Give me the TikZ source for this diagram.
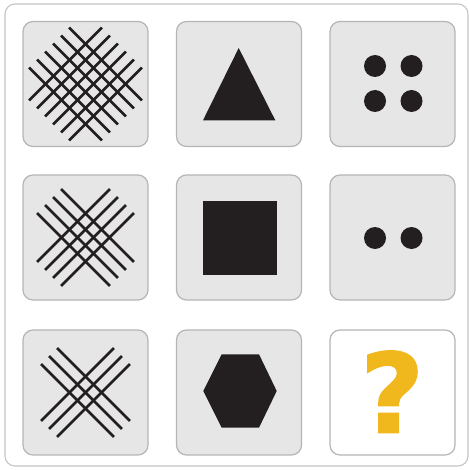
\documentclass[tikz,border=0pt]{standalone}
\usepackage{fontspec}
\newfontface\quizfont{DejaVu Sans Bold}[FakeBold=1.5]
\definecolor{tilegray}{HTML}{E6E6E6}
\definecolor{edgegray}{HTML}{B5B5B5}
\definecolor{framegray}{HTML}{C4C4C4}
\definecolor{inkblack}{HTML}{231F20}
\definecolor{quizyellow}{HTML}{F1B81E}
\tikzset{
  tile/.style={draw=edgegray, line width=1.2pt, fill=tilegray, rounded corners=10pt,
    minimum width=125pt, minimum height=125pt, inner sep=0pt},
  hatch/.style={draw=inkblack, line width=2.7pt},
  dot/.style={fill=inkblack}
}
\begin{document}
\begin{tikzpicture}[x=1pt,y=-1pt]
\useasboundingbox (0,0) rectangle (469,470);
\draw[framegray, line width=1.1pt, rounded corners=10pt] (5,4) rectangle (468,466);
% tiles, row by row
\node[tile] (t11) at (85.5,84) {};
\node[tile] (t12) at (239,84) {};
\node[tile] (t13) at (392.5,84) {};
\node[tile] (t21) at (85.5,237.5) {};
\node[tile] (t22) at (239,237.5) {};
\node[tile] (t23) at (392.5,237.5) {};
\node[tile] (t31) at (85.5,392.5) {};
\node[tile] (t32) at (239,392.5) {};
\node[tile, fill=white] (t33) at (392.5,392.5) {};
% crossed lines in the left column
\foreach \t/\n in {t11/6, t21/4, t31/3} {
  \begin{scope}[shift={(\t.center)}, rotate=45]
    \foreach \k in {1,...,\n} {
      \pgfmathsetmacro\off{(\k-(\n+1)/2)*11.3}
      \draw[hatch] (-51.5,\off) -- (51.5,\off);
      \draw[hatch] (\off,-51.5) -- (\off,51.5);
    }
  \end{scope}
}
% solid shapes in the middle column
\fill[inkblack] (238.7,48) -- (275.3,120.3) -- (203,120.3) -- cycle;
\fill[inkblack] (203,201) rectangle (277,275);
\fill[inkblack] (221.7,354.3) -- (259,354.3) -- (276.7,391) -- (259,427.7)
  -- (221.7,427.7) -- (203.3,391) -- cycle;
% dots in the right column
\foreach \x/\y in {375/66, 411.5/66, 375/101, 411.5/101, 375/238, 411.5/238}
  \fill[dot] (\x,\y) circle (11);
\node[text=quizyellow, inner sep=0pt, font=\quizfont\fontsize{110}{110}\selectfont]
  (quiz) at (392.2,391.7) {?};
\end{tikzpicture}
\end{document}
